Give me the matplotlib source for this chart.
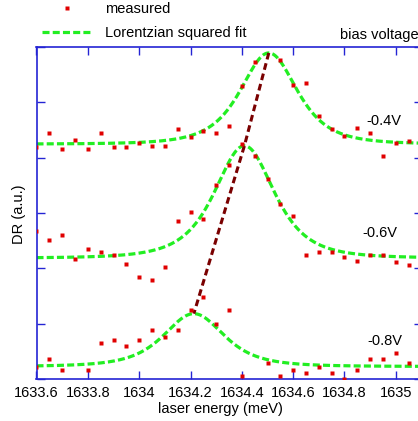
import numpy as np
import matplotlib
matplotlib.use("Agg")
import matplotlib.pyplot as plt

plt.rcParams['font.family'] = ['Liberation Sans', 'DejaVu Sans']

# ---- data ----
energy = np.round(np.arange(30) * 0.05 + 1633.6, 3)

meas_04 = [4.188, 4.441, 4.151, 4.325, 4.151, 4.441, 4.188, 4.188, 4.260, 4.206,
           4.206, 4.518, 4.379, 4.482, 4.441, 4.578, 5.290, 5.735, np.nan, 5.771,
           5.319, 5.350, 4.748, 4.513, 4.386, 4.536, 4.441, 4.036, 4.260, 4.301]
meas_06 = [2.680, 2.512, 2.603, 2.174, 2.350, 2.295, 2.236, 2.078, 1.849, 1.798,
           2.024, 2.856, 3.013, 2.892, 3.512, 3.862, 4.242, 4.036, 3.609, 3.163,
           2.951, 2.236, 2.295, 2.295, 2.200, 2.138, 2.236, 2.236, 2.120, 2.060]
meas_08 = [0.222, 0.361, 0.168, np.nan, 0.168, 0.651, 0.710, 0.591, 0.710, 0.886,
           0.765, 0.886, 1.247, 1.477, 0.999, 1.252, 0.054, np.nan, 0.284, 0.054,
           0.168, 0.108, 0.222, 0.108, 0.000, 0.168, 0.361, 0.361, 0.475, 0.284]

bias_labels = ['-0.4V', '-0.6V', '-0.8V']
fit_center = [1634.505, 1634.410, 1634.213]
fit_height = [1.648, 2.030, 0.955]
fit_width = [0.202, 0.212, 0.215]
fit_base = [4.245, 2.185, 0.226]
label_x = [1634.886, 1634.871, 1634.888]
label_y = [4.59, 2.566, 0.614]

xticks = [1633.6, 1633.8, 1634.0, 1634.2, 1634.4, 1634.6, 1634.8, 1635.0]
xticklabels = ['1633.6', '1633.8', '1634', '1634.2', '1634.4', '1634.6', '1634.8', '1635']

# ---- figure ----
fig = plt.figure(figsize=(4.18, 4.21), dpi=100)
ax = fig.add_axes([36.5 / 418, 42 / 421, 385 / 418, 332 / 421])

blue = '#2424d4'
green = '#22ee22'
red = '#e00000'
brown = '#7a0000'

xs = np.linspace(1633.6, 1635.1, 500)
meas_all = [meas_04, meas_06, meas_08]
for i in range(3):
    yfit = fit_base[i] + fit_height[i] / (1 + ((xs - fit_center[i]) / fit_width[i]) ** 2) ** 2
    ax.plot(xs, yfit, color=green, lw=2.3, dashes=(2.2, 1.0), zorder=2,
            label='Lorentzian squared fit' if i == 0 else None)
    ax.plot(energy, meas_all[i], 's', color=red, ms=2.6, mec='none', zorder=4,
            label='measured' if i == 0 else None)
    ax.text(label_x[i], label_y[i], bias_labels[i], fontsize=10.5, ha='left', va='baseline')

peak_y = [b + h for b, h in zip(fit_base, fit_height)]
ax.plot(fit_center, peak_y, color=brown, lw=2.2, dashes=(2.2, 1.3), zorder=3)

ax.set_xlim(1633.6, 1635.1)
ax.set_ylim(0, 6)
ax.set_xticks(xticks)
ax.set_xticklabels(xticklabels, fontsize=10.5)
ax.set_yticks(range(7))
ax.set_yticklabels([])
ax.tick_params(axis='both', direction='in', length=6, width=1.0, color=blue,
               top=True, right=True, pad=5)
for s in ax.spines.values():
    s.set_color(blue)
    s.set_linewidth(1.2)

fig.text(220 / 418, 1 - 409 / 421, 'laser energy (meV)', ha='center', va='center', fontsize=10.5)
fig.text(19.5 / 418, 1 - 214 / 421, 'DR (a.u.)', ha='center', va='center', rotation=90, fontsize=10.5)
fig.text(340 / 418, 1 - 38.5 / 421, 'bias voltage', ha='left', va='baseline', fontsize=10.5)

h, l = ax.get_legend_handles_labels()
order = [l.index('measured'), l.index('Lorentzian squared fit')]
fig.legend([h[o] for o in order], [l[o] for o in order], loc='upper left',
           bbox_to_anchor=(42 / 418, 1 - 2 / 421), frameon=False, fontsize=10.5,
           handlelength=3.4, handletextpad=0.95, labelspacing=0.7,
           borderpad=0, borderaxespad=0, markerscale=1.0)

fig.savefig('out.png', dpi=100)
